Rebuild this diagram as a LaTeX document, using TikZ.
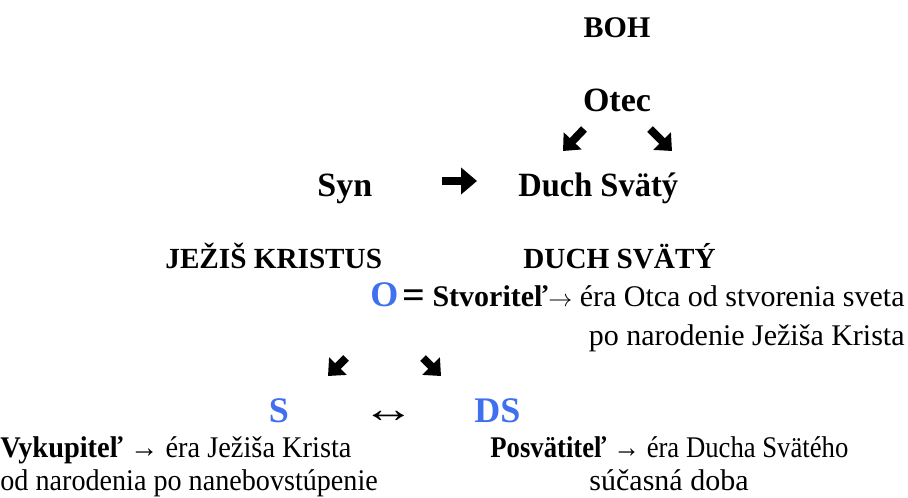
\documentclass[tikz,border=0pt]{standalone}
\usepackage{fontspec}
\setmainfont{Liberation Serif}
\usepackage{xcolor}
\usetikzlibrary{arrows.meta}
\definecolor{bleu}{RGB}{64,112,240}

\tikzset{
  txt/.style={font=\fontsize{15}{18}\selectfont, inner sep=0pt},
  titre/.style={font=\fontsize{15}{18}\selectfont\bfseries, inner sep=0pt},
  meno/.style={font=\fontsize{14.6}{18}\selectfont\bfseries, inner sep=0pt},
  grand/.style={font=\fontsize{17}{20}\selectfont\bfseries, inner sep=0pt},
  lettre/.style={font=\fontsize{18}{21}\selectfont\bfseries, text=bleu, inner sep=0pt},
  fleche/.style={line width=4pt, -{Triangle[length=8pt,width=13pt]}},
  petite/.style={line width=4pt, -{Triangle[length=7pt,width=12pt]}}
}

\begin{document}
\begin{tikzpicture}[x=0.5pt,y=-0.5pt]
    \useasboundingbox (0,0) rectangle (908,497);

    % Titre
    \node[titre, anchor=base] (boh) at (617,38) {BOH};

    % Les trois personnes
    \node[grand, anchor=base] (otec) at (617,112) {Otec};
    \node[grand, anchor=base west] (syn) at (317,197) {Syn};
    \node[grand, anchor=base west] (duch) at (518,197) {\scalebox{0.955}[1]{Duch Svätý}};

    % Flèches épaisses
    \coordinate (f1a) at (584,129);
    \coordinate (f1b) at (563,151);
    \coordinate (f2a) at (650,129);
    \coordinate (f2b) at (672,151);
    \coordinate (f3a) at (442,181);
    \coordinate (f3b) at (477,181);
    \draw[petite] (f1a) -- (f1b);
    \draw[petite] (f2a) -- (f2b);
    \draw[fleche] (f3a) -- (f3b);

    % Noms
    \node[meno, anchor=base west] (jezis) at (165,268) {JEŽIŠ KRISTUS};
    \node[meno, anchor=base west] (duchsv) at (523,268) {DUCH SVÄTÝ};

    % Otec
    \node[lettre, anchor=base west] (O) at (370,306) {O};
    \node[txt, anchor=base east] (stvoritel) at (905,306)
        {\raisebox{-1pt}{\fontsize{20}{20}\selectfont\bfseries =} \textbf{Stvoriteľ}{\fontsize{12}{12}\selectfont$\rightarrow$}
         éra Otca od stvorenia sveta};
    \node[txt, anchor=base east] (obdobie1) at (905,345) {po narodenie Ježiša Krista};

    % Flèches vers S et DS
    \coordinate (f4a) at (346,358);
    \coordinate (f4b) at (328,376);
    \coordinate (f5a) at (423,358);
    \coordinate (f5b) at (441,376);
    \draw[petite] (f4a) -- (f4b);
    \draw[petite] (f5a) -- (f5b);

    % Syn a Duch
    \node[lettre, anchor=base] (S) at (279,422) {S};
    \node[txt, anchor=base, font=\fontsize{18}{21}\selectfont] (obojs) at (389,422) {\scalebox{1.46}[1.1]{↔}};
    \node[lettre, anchor=base west] (DS) at (474,422) {DS};

    \node[txt, anchor=base west] (vykup) at (0,457)
        {\scalebox{0.946}[1]{\textbf{Vykupiteľ} → éra Ježiša Krista}};
    \node[txt, anchor=base west] (obdobie2) at (0,490)
        {\scalebox{0.938}[1]{od narodenia po nanebovstúpenie}};
    \node[txt, anchor=base west] (posv) at (490,457)
        {\scalebox{0.89}[1]{\textbf{Posvätiteľ} → éra Ducha Svätého}};
    \node[txt, anchor=base] (obdobie3) at (669,490) {súčasná doba};
\end{tikzpicture}
\end{document}
